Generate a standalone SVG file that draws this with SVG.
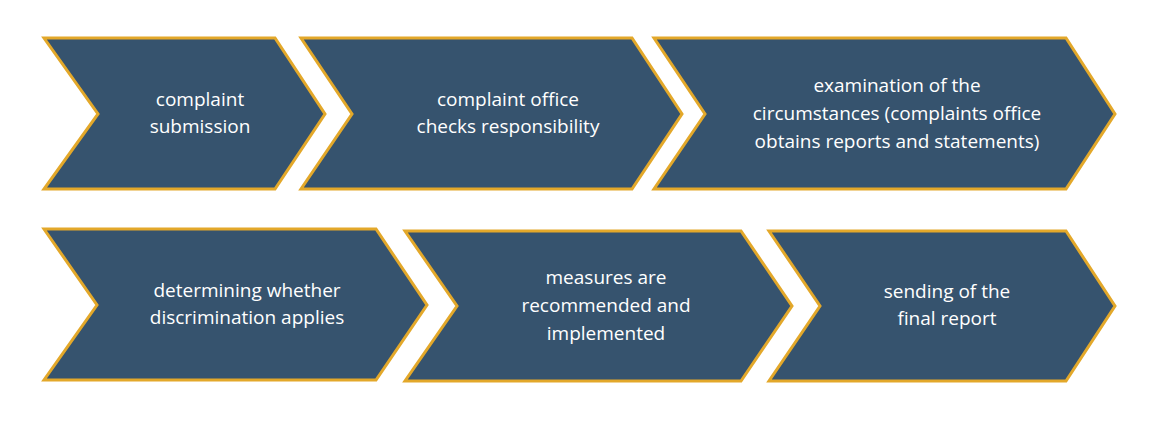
<svg xmlns="http://www.w3.org/2000/svg" width="1170" height="423" viewBox="0 0 1170 423">
<style>
.c{fill:#36536E;stroke:#E3A82A;stroke-width:3;stroke-linejoin:miter}
.t{font-family:"Open Sans",sans-serif;font-size:19px;fill:#fff;text-anchor:middle}
</style>
<rect width="1170" height="423" fill="#fff"/>
<g id="n1"><polygon class="c" points="44,38 275,38 325,114 275,189 44,189 98,114"/>
<text class="t" x="200" y="106">complaint</text><text class="t" x="200" y="133">submission</text></g>
<g id="n2"><polygon class="c" points="301,38 632,38 682,114 632,189 301,189 352,114"/>
<text class="t" x="508" y="106">complaint office</text><text class="t" x="508" y="133">checks responsibility</text></g>
<g id="n3"><polygon class="c" points="654,38 1066,38 1115,114 1066,189 654,189 705,114"/>
<text class="t" x="897" y="92">examination of the</text><text class="t" x="897" y="120">circumstances (complaints office</text><text class="t" x="897" y="148">obtains reports and statements)</text></g>
<g id="n4"><polygon class="c" points="44,229 376,229 427,305 376,380 44,380 97,305"/>
<text class="t" x="247" y="297">determining whether</text><text class="t" x="247" y="324">discrimination applies</text></g>
<g id="n5"><polygon class="c" points="405,231 741,231 792,306 741,381 405,381 457,306"/>
<text class="t" x="606" y="284">measures are</text><text class="t" x="606" y="312">recommended and</text><text class="t" x="606" y="340">implemented</text></g>
<g id="n6"><polygon class="c" points="769,231 1066,231 1115,306 1066,381 769,381 820,306"/>
<text class="t" x="947" y="298">sending of the</text><text class="t" x="947" y="325">final report</text></g>
<g id="connectors"/>
</svg>
